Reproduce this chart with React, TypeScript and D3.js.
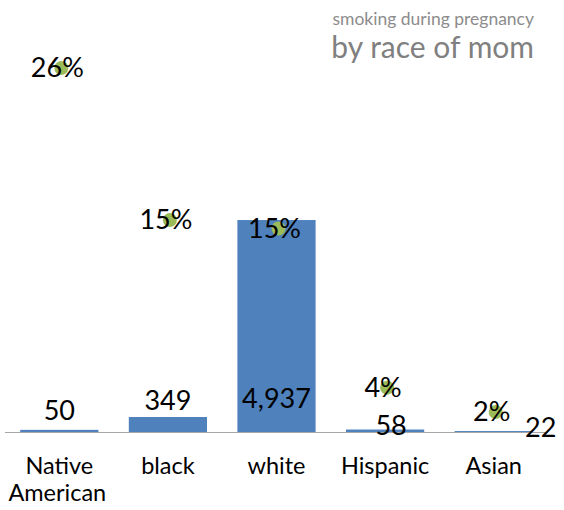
import React from "react";
import * as d3 from "d3";

const categories = ["Native American", "black", "white", "Hispanic", "Asian"];
const births = [50, 349, 4937, 58, 22];
const smokingRate = [0.26, 0.154, 0.148, 0.037, 0.02];

// label layout (manual placements as in the source chart)
const countLabelLift = [21, 31, 33, 6, 4];
const countLabelShift = [0, 0, 0, 6, 47];

const W = 564;
const H = 510;
const FONT = "Lato, 'Open Sans', sans-serif";

export default function App() {
  const baseline = 432;
  const x = d3
    .scaleBand<string>()
    .domain(categories)
    .range([5, 548])
    .paddingInner(0.28)
    .paddingOuter(0.14);
  const yCount = d3.scaleLinear().domain([0, 6000]).range([baseline, 174.4]);
  const yPct = d3.scaleLinear().domain([0, 0.3]).range([440.7, 10.7]);
  const fmtCount = d3.format(",");
  const fmtPct = d3.format(".0%");
  const cx = (c: string) => (x(c) as number) + x.bandwidth() / 2;

  return (
    <svg
      width={W}
      height={H}
      style={{ position: "absolute", left: 0, top: 0, background: "#fff" }}
      fontFamily={FONT}
    >
      <text x={534} y={25} textAnchor="end" fontSize={17.5} fill="#8c8c8c">
        smoking during pregnancy
      </text>
      <text x={534} y={58} textAnchor="end" fontSize={30} fill="#808080">
        by race of mom
      </text>

      {categories.map((c, i) => (
        <rect
          key={c}
          x={x(c)}
          y={yCount(births[i])}
          width={x.bandwidth()}
          height={baseline - yCount(births[i])}
          fill="#4F81BD"
        />
      ))}
      <line x1={5} x2={548} y1={baseline + 0.5} y2={baseline + 0.5} stroke="#a6a6a6" strokeWidth={1} />

      {categories.map((c, i) => (
        <circle key={"d" + c} cx={cx(c) + 2} cy={yPct(smokingRate[i])} r={7} fill="#9BBB59" />
      ))}

      {categories.map((c, i) => (
        <text
          key={"cl" + c}
          x={cx(c) + countLabelShift[i]}
          y={baseline - countLabelLift[i]}
          dy="0.35em"
          textAnchor="middle"
          fontSize={27}
          fill="#000"
        >
          {fmtCount(births[i])}
        </text>
      ))}

      {categories.map((c, i) => (
        <text
          key={"pl" + c}
          x={cx(c) - 2}
          y={yPct(smokingRate[i])}
          dy="0.35em"
          textAnchor="middle"
          fontSize={27}
          fill="#000"
        >
          {fmtPct(smokingRate[i])}
        </text>
      ))}

      {categories.map((c) => {
        const words = c === "Native American" ? ["Native", "American"] : [c];
        return (
          <text key={"ax" + c} x={cx(c)} y={474} textAnchor="middle" fontSize={23.5} fill="#000">
            {words.map((w, j) => (
              <tspan key={w} x={cx(c) - (j > 0 ? 2 : 0)} dy={j === 0 ? 0 : 27}>
                {w}
              </tspan>
            ))}
          </text>
        );
      })}
    </svg>
  );
}
